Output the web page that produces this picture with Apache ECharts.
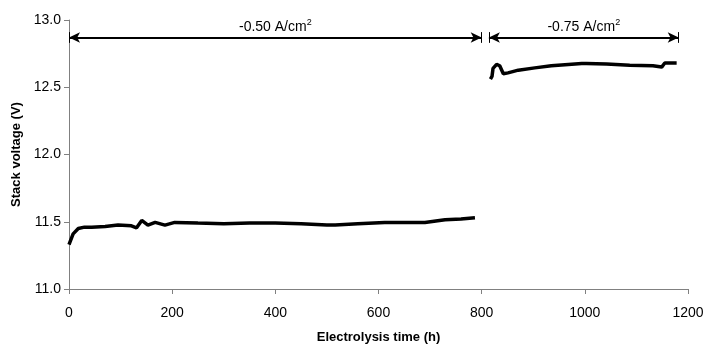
<!DOCTYPE html>
<html>
<head>
<meta charset="utf-8">
<script src="https://cdn.jsdelivr.net/npm/echarts@6/dist/echarts.min.js"></script>
<style>
  html, body { margin: 0; padding: 0; background: #fff; }
  #chart { width: 704px; height: 347px; }
</style>
</head>
<body>
<div id="chart"></div>
<script>
const time1 = [0, 2, 8, 18, 30, 44, 70, 95, 121, 131, 141, 153, 167, 186, 205, 250, 300, 350, 400, 450, 500, 516, 560, 612, 650, 690, 729, 760, 787];
const volt1 = [11.33, 11.35, 11.41, 11.45, 11.46, 11.46, 11.465, 11.475, 11.47, 11.455, 11.51, 11.475, 11.495, 11.475, 11.495, 11.49, 11.485, 11.49, 11.49, 11.485, 11.475, 11.475, 11.485, 11.495, 11.495, 11.495, 11.515, 11.52, 11.53];
const time2 = [817, 820, 822, 829, 835, 842, 851, 871, 903, 935, 968, 994, 1003, 1042, 1087, 1132, 1149, 1155, 1178];
const volt2 = [12.56, 12.58, 12.64, 12.67, 12.66, 12.60, 12.607, 12.627, 12.644, 12.66, 12.67, 12.677, 12.677, 12.672, 12.664, 12.66, 12.65, 12.68, 12.68];

// current density periods: [start, end, label]
const periods = [
  [0, 800, '-0.50 A/cm'],
  [814, 1182, '-0.75 A/cm']
];
const arrowLevel = 12.87;

const chart = echarts.init(document.getElementById('chart'));

const arrowLines = [];
const endBars = [];
periods.forEach(p => {
  arrowLines.push([
    { coord: [p[0], arrowLevel], symbol: 'arrow', label: { formatter: p[2] + '{sup|2}' } },
    { coord: [p[1], arrowLevel], symbol: 'arrow' }
  ]);
  [p[0], p[1]].forEach(x => {
    endBars.push([
      { coord: [x, arrowLevel - 0.04], symbol: 'none' },
      { coord: [x, arrowLevel + 0.04], symbol: 'none' }
    ]);
  });
});

const font = 'Liberation Sans, Arial, sans-serif';
const nameStyle = { color: '#000', fontFamily: font, fontSize: 13, fontWeight: 'bold' };

chart.setOption({
  animation: false,
  grid: { left: 69, right: 16, top: 20, bottom: 58, outerBoundsMode: 'none' },
  xAxis: {
    type: 'value',
    min: 0,
    max: 1200,
    interval: 200,
    name: 'Electrolysis time (h)',
    nameLocation: 'middle',
    nameGap: 42,
    nameTextStyle: nameStyle,
    splitLine: { show: false },
    axisLine: { lineStyle: { color: '#808080', width: 1 } },
    axisTick: { length: 5, lineStyle: { color: '#808080' } },
    axisLabel: { color: '#000', fontFamily: font, fontSize: 14, margin: 17, formatter: v => String(v) }
  },
  yAxis: {
    type: 'value',
    min: 11,
    max: 13,
    interval: 0.5,
    name: 'Stack voltage (V)',
    nameLocation: 'middle',
    nameGap: 45,
    nameTextStyle: nameStyle,
    splitLine: { show: false },
    axisLine: { show: true, lineStyle: { color: '#808080', width: 1 } },
    axisTick: { show: true, length: 5, lineStyle: { color: '#808080' } },
    axisLabel: {
      color: '#000', fontFamily: font, fontSize: 14, margin: 8,
      formatter: v => v.toFixed(1)
    }
  },
  series: [
    {
      type: 'line',
      data: time1.map((t, i) => [t, volt1[i]]),
      showSymbol: false,
      lineStyle: { color: '#000', width: 3.5 },
      markLine: {
        silent: true,
        symbolSize: [8, 11],
        lineStyle: { color: '#000', width: 2, type: 'solid' },
        label: {
          show: true,
          position: 'middle',
          distance: 2,
          color: '#000',
          fontFamily: font,
          fontSize: 14,
          rich: { sup: { fontSize: 9, verticalAlign: 'top', padding: [0, 0, 8, 0], color: '#000' } }
        },
        data: arrowLines
      }
    },
    {
      type: 'line',
      data: time2.map((t, i) => [t, volt2[i]]),
      showSymbol: false,
      lineStyle: { color: '#000', width: 3.5 },
      markLine: {
        silent: true,
        lineStyle: { color: '#000', width: 1, type: 'solid' },
        label: { show: false },
        data: endBars
      }
    }
  ]
});
</script>
</body>
</html>
